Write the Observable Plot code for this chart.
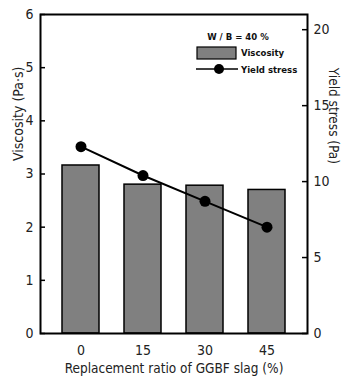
<!DOCTYPE html>
<html><head><meta charset="utf-8">
<script src="https://cdn.jsdelivr.net/npm/d3@7"></script>
<script src="https://cdn.jsdelivr.net/npm/@observablehq/plot@0.6"></script>
<style>body{margin:0;background:#fff}</style>
</head><body><div id="chart"></div>
<script>
const ratios = ["0", "15", "30", "45"];
const viscosity = [3.16, 2.80, 2.78, 2.70];
const yieldStress = [12.3, 10.4, 8.7, 7.0];
const leftTicks = [0, 1, 2, 3, 4, 5, 6];
const rightTicks = [0, 5, 10, 15, 20];
const k = 3.5; // right axis (0-21 Pa) mapped onto left (0-6 Pa·s)
const xTitle = "Replacement ratio of GGBF slag (%)";
const yLeftTitle = "Viscosity (Pa·s)";
const yRightTitle = "Yield stress (Pa)";

const data = ratios.map((r, i) => ({r, v: viscosity[i], ys: yieldStress[i]}));
const font = '"DejaVu Sans Condensed","Liberation Sans Narrow",sans-serif';
const W = 343, H = 382, mL = 40, mR = 36, mT = 14, mB = 49;
const innerW = W - mL - mR, tickLen = 5;

const plot = Plot.plot({
  width: W, height: H,
  marginLeft: mL, marginRight: mR, marginTop: mT, marginBottom: mB,
  style: {fontFamily: font, fontSize: "14px", color: "#222", background: "#fff", overflow: "visible"},
  x: {domain: ratios, paddingInner: 0.4, paddingOuter: 0.35},
  y: {domain: [0, 6]},
  marks: [
    Plot.barY(data, {x: "r", y: "v", fill: "#808080", stroke: "#000", strokeWidth: 1.5}),
    Plot.line(data, {x: "r", y: d => d.ys / k, stroke: "#000", strokeWidth: 2}),
    Plot.dot(data, {x: "r", y: d => d.ys / k, r: 5.5, fill: "#000", stroke: "none"}),
    // inward ticks
    Plot.tickY(leftTicks, {y: d => d, insetRight: innerW - tickLen, stroke: "#000", strokeWidth: 1.5}),
    Plot.tickY(rightTicks, {y: d => d / k, insetLeft: innerW - tickLen, stroke: "#000", strokeWidth: 1.5}),
    Plot.axisY({anchor: "left", ticks: leftTicks, tickFormat: d3.format("d"), tickSize: 0, tickPadding: 7, label: null}),
    Plot.axisY({anchor: "right", ticks: rightTicks.map(t => t / k), tickFormat: d => String(Math.round(d * k)),
      tickSize: 0, tickPadding: 6, label: null}),
    Plot.axisX({tickSize: 0, tickPadding: 12, label: null}),
    Plot.text([yLeftTitle], {frameAnchor: "left", text: d => d, rotate: -90, dx: -22, dy: -13, fontSize: 14}),
    Plot.text([yRightTitle], {frameAnchor: "right", text: d => d, rotate: 90, dx: 26, dy: -10, fontSize: 13.5}),
    Plot.text([xTitle], {frameAnchor: "bottom", text: d => d, dy: 39, fontSize: 13.5}),
    Plot.frame({stroke: "#000", strokeWidth: 2})
  ]
});
document.getElementById("chart").appendChild(plot);

// legend overlay
const svg = d3.select(plot);
const g = svg.append("g").attr("font-family", font).attr("font-weight", "bold").attr("font-size", 9.5).attr("fill", "#111").attr("text-anchor", "start");
g.append("text").attr("x", 238).attr("y", 37).attr("text-anchor", "middle").attr("dy", "0.35em").text("W / B = 40 %");
g.append("rect").attr("x", 197).attr("y", 47).attr("width", 39).attr("height", 12).attr("fill", "#808080").attr("stroke", "#000").attr("stroke-width", 1.2);
g.append("text").attr("x", 241).attr("y", 53).attr("dy", "0.35em").text("Viscosity");
g.append("line").attr("x1", 196).attr("x2", 238).attr("y1", 69).attr("y2", 69).attr("stroke", "#000").attr("stroke-width", 1.5);
g.append("circle").attr("cx", 219).attr("cy", 69).attr("r", 5).attr("fill", "#000");
g.append("text").attr("x", 241).attr("y", 70).attr("dy", "0.35em").text("Yield stress");
</script>
</body></html>
